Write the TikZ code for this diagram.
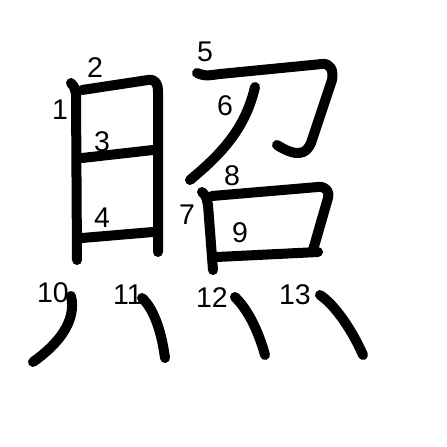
\documentclass[tikz,border=0pt]{standalone}
\usepackage{fontspec}
\setmainfont{Liberation Sans}
\begin{document}
\begin{tikzpicture}[x=1pt,y=-1pt,
  strk/.style={line width=10pt,line cap=round,line join=round},
  num/.style={inner sep=0pt,font=\fontsize{28.5}{28.5}\selectfont}]
\useasboundingbox[fill=white] (0,0) rectangle (447,447);
% labels
\node[num] (n1) at (60,110) {1};
\node[num] (n2) at (95,68) {2};
\node[num] (n3) at (102,142) {3};
\node[num] (n4) at (102,218) {4};
\node[num] (n5) at (205,52) {5};
\node[num] (n6) at (225,106) {6};
\node[num] (n7) at (187,215) {7};
\node[num] (n8) at (232,176) {8};
\node[num] (n9) at (240,233) {9};
\node[num] (n10) at (53,293) {10};
\node[num] (n11) at (128,295) {11};
\node[num] (n12) at (212,298) {12};
\node[num] (n13) at (295,295) {13};
% strokes
\draw[strk] (71,83) .. controls (74,86) .. (76,94) -- (77,260);
\draw[strk] (82,90) -- (148,80) .. controls (156,79) and (158,84) .. (158,92) -- (158,252);
\draw[strk] (82,158) -- (153,150);
\draw[strk] (82,238) -- (153,232);
\draw[strk] (197,73) .. controls (205,76) .. (220,74) -- (322,64) .. controls (330,63) and (334,70) .. (332,80) -- (311,143) .. controls (306,155) and (296,157) .. (277,145);
\draw[strk] (255,87) .. controls (245,130) and (220,155) .. (190,180);
\draw[strk] (202,192) .. controls (206,196) .. (208,205) -- (213,270);
\draw[strk] (212,196) -- (318,187) .. controls (326,186) and (330,192) .. (328,198) -- (313,250);
\draw[strk] (217,257) -- (318,252);
\draw[strk] (71,296) .. controls (77,322) and (57,345) .. (33,362);
\draw[strk] (142,298) .. controls (155,310) and (162,335) .. (165,358);
\draw[strk] (235,297) .. controls (248,310) and (258,330) .. (265,355);
\draw[strk] (320,295) .. controls (335,305) and (352,330) .. (363,355);
\end{tikzpicture}
\end{document}
